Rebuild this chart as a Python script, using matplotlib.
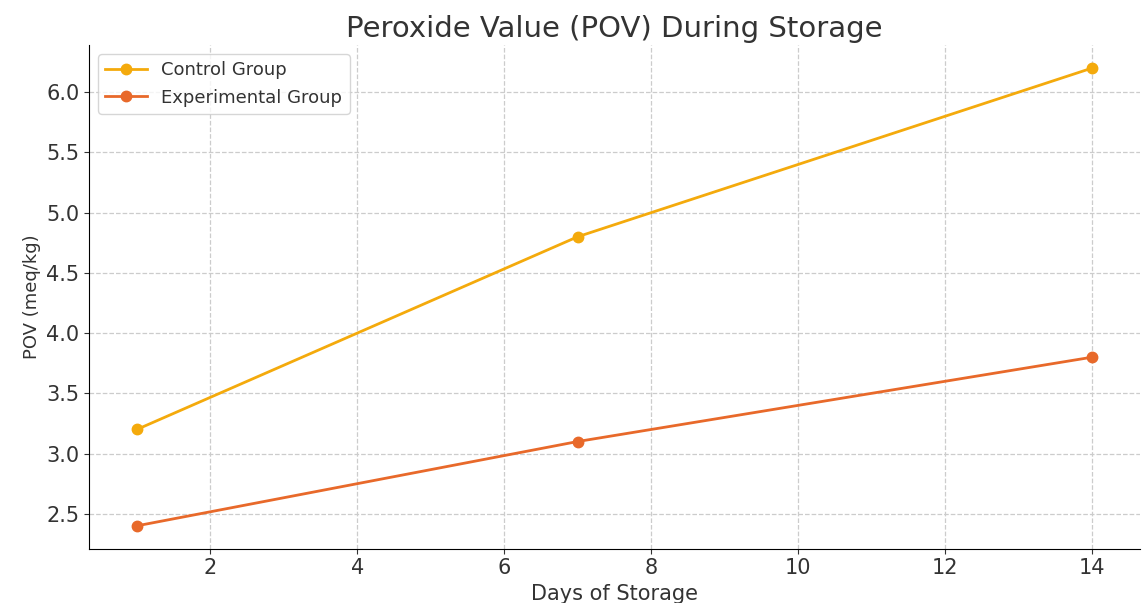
import matplotlib
matplotlib.use("Agg")
import matplotlib.pyplot as plt

plt.rcParams["font.family"] = ["DejaVu Sans"]

days = [1, 7, 14]
control_pov = [3.2, 4.8, 6.2]
experimental_pov = [2.4, 3.1, 3.8]
series_labels = ["Control Group", "Experimental Group"]

fig, ax = plt.subplots(figsize=(11.42, 6.03), dpi=100)

ax.plot(days, control_pov, marker="o", color="#F4AA0C", linewidth=2, markersize=7.5,
        label=series_labels[0])
ax.plot(days, experimental_pov, marker="o", color="#E8692A", linewidth=2, markersize=7.5,
        label=series_labels[1])

ax.set_title("Peroxide Value (POV) During Storage", fontsize=21, color="#333333")
ax.set_xlabel("Days of Storage", fontsize=15, color="#333333")
ax.set_ylabel("POV (meq/kg)", fontsize=13, color="#333333")
ax.tick_params(labelsize=15, colors="#333333")
ax.grid(True, linestyle="--", color="#cccccc", linewidth=0.9)
ax.spines["top"].set_visible(False)
ax.spines["right"].set_visible(False)
leg = ax.legend(loc="upper left", fontsize=13, handlelength=2.3)
for t in leg.get_texts():
    t.set_color("#333333")

fig.subplots_adjust(left=0.078, right=0.998, top=0.925, bottom=0.09)
fig.savefig("out.png")
